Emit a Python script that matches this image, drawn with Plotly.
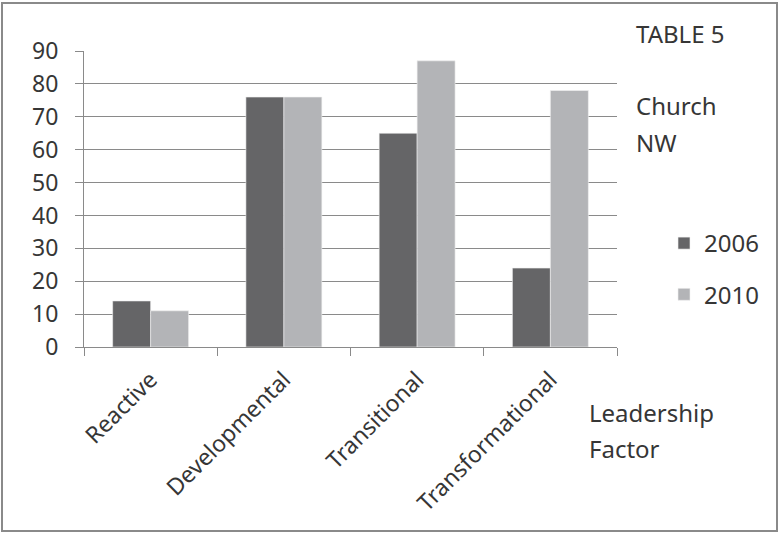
import plotly.graph_objects as go

# Leadership factor scores by survey year
factors = ["Reactive", "Developmental", "Transitional", "Transformational"]
scores_2006 = [14, 76, 65, 24]
scores_2010 = [11, 76, 87, 78]
y_ticks = [0, 10, 20, 30, 40, 50, 60, 70, 80, 90]

FONT = "Noto Sans"
TEXT = "#363636"
AXIS = "#8a8a8a"

W, H = 779, 535
L, R, T, B = 84, 162, 51, 188
PW, PH = W - L - R, H - T - B


def px(x):
    return (x - L) / PW


def py(y):
    return (H - B - y) / PH


fig = go.Figure()
fig.add_trace(go.Bar(
    x=factors, y=scores_2006, name="2006",
    marker=dict(color="#656567", line=dict(color="#f0f0f0", width=0.6)),
    legendgroup="a",
))
fig.add_trace(go.Bar(
    x=factors, y=scores_2010, name="2010",
    marker=dict(color="#b3b4b7", line=dict(color="#f0f0f0", width=0.6)),
    legendgroup="b",
))

fig.update_layout(
    width=W, height=H,
    margin=dict(l=L, r=R, t=T, b=B, pad=0),
    paper_bgcolor="white", plot_bgcolor="white",
    barmode="group", bargap=0.43, bargroupgap=0,
    font=dict(family=FONT, size=22, color=TEXT),
    showlegend=True,
    legend=dict(
        x=px(664), y=py(221), xanchor="left", yanchor="top",
        font=dict(size=24, color=TEXT),
        traceorder="grouped", tracegroupgap=17,
        bgcolor="rgba(0,0,0,0)",
    ),
    xaxis=dict(
        type="category", tickangle=-45,
        showline=True, linecolor=AXIS, linewidth=1,
        ticks="outside", ticklen=8, tickcolor=AXIS, tickson="boundaries",
        showgrid=False, ticklabelstandoff=9,
        tickfont=dict(size=23, color=TEXT),
    ),
    yaxis=dict(
        range=[0, 90], tickvals=y_ticks,
        showline=True, linecolor=AXIS, linewidth=1,
        ticks="outside", ticklen=8, tickcolor=AXIS,
        showgrid=True, gridcolor=AXIS, gridwidth=1,
        zeroline=False, ticklabelstandoff=12,
        tickfont=dict(size=23, color=TEXT),
    ),
    shapes=[dict(
        type="rect", xref="paper", yref="paper",
        x0=px(2), x1=px(777), y0=py(531), y1=py(3),
        line=dict(color=AXIS, width=2), fillcolor="rgba(0,0,0,0)",
        layer="below",
    )],
)

side_text = [
    ("TABLE 5", 634, 34),
    ("Church", 634, 105),
    ("NW", 634, 142),
    ("Leadership", 587, 412),
    ("Factor", 587, 448),
]
for txt, x, y in side_text:
    fig.add_annotation(
        text=txt, xref="paper", yref="paper", x=px(x), y=py(y),
        xanchor="left", yanchor="middle", showarrow=False,
        font=dict(family=FONT, size=24, color=TEXT),
    )

fig.write_html("out.html")
